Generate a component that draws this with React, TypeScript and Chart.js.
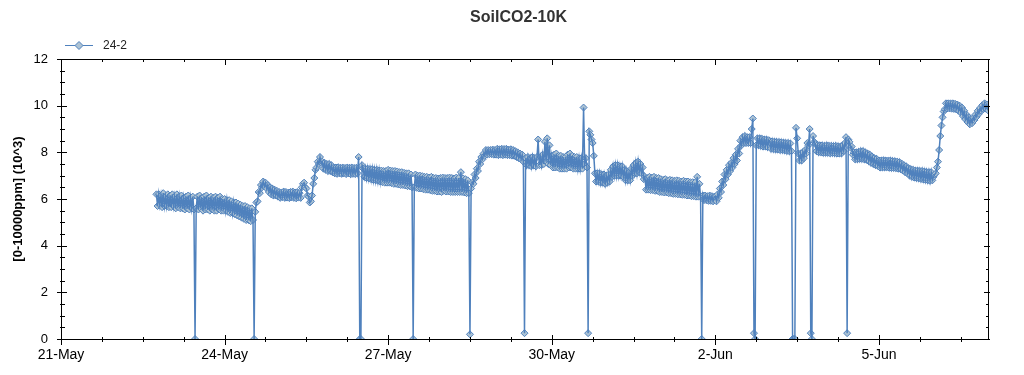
import React, { useEffect, useRef } from 'react';
import { Chart, registerables } from 'chart.js';

Chart.register(...registerables);

// ---------- text ----------
const TITLE = 'SoilCO2-10K';
const SERIES_LABEL = '24-2';
const Y_TITLE = '[0-10000ppm] (10^3)';
const MONTHS = ['Jan', 'Feb', 'Mar', 'Apr', 'May', 'Jun', 'Jul', 'Aug', 'Sep', 'Oct', 'Nov', 'Dec'];

// axis origin: 21-May (x values are days since 21-May 00:00)
const ORIGIN_YEAR = 2024;
const ORIGIN_MONTH = 4; // May (0-based)
const ORIGIN_DAY = 21;
const X_MAX_DAYS = 17;
const X_LABEL_DAYS = [0, 3, 6, 9, 12, 15];
const X_MINOR_STEP_DAYS = 0.75;
const Y_TICKS = [0, 2, 4, 6, 8, 10, 12];
const Y_MINOR_STEP = 0.5;

// ---------- half-hourly readings (10^3 ppm) ----------
const READING_STEP_HOURS = 0.5;
// 22-May, from 18:00
const may22 = [6.2, 5.7, 6.2, 5.75, 6.15, 5.65, 6.25, 5.7, 6.1, 5.7, 6.2, 5.65];
const may23 = [6.15, 5.65, 6.2, 5.7, 6.1, 5.6, 6.2, 5.65, 6.1, 5.6, 6.15, 5.6, 6.05, 5.55, 6.1, 5.6, 6.15, 5.55, 6.05, 5.6, 6.1, 5.55, 0, 5.6, 6.1, 5.55, 6.15, 5.6, 6.05, 5.5, 6.1, 5.55, 6.15, 5.55, 6.05, 5.5, 6.1, 5.55, 6.05, 5.5, 6.1, 5.5, 6.05, 5.55, 6.1, 5.5, 6.0, 5.5];
const may24 = [6.0, 5.5, 5.95, 5.45, 5.95, 5.4, 5.9, 5.4, 5.85, 5.35, 5.85, 5.3, 5.8, 5.25, 5.75, 5.2, 5.7, 5.15, 5.7, 5.1, 5.65, 5.1, 5.6, 5.05, 5.6, 5.1, 0, 5.45, 5.85, 5.9, 6.3, 6.25, 6.6, 6.5, 6.75, 6.55, 6.7, 6.45, 6.6, 6.3, 6.5, 6.2, 6.45, 6.15, 6.4, 6.15, 6.35, 6.1];
const may25 = [6.3, 6.05, 6.28, 6.08, 6.32, 6.05, 6.3, 6.06, 6.27, 6.04, 6.3, 6.07, 6.32, 6.05, 6.28, 6.03, 6.3, 6.06, 6.25, 6.05, 6.5, 6.65, 6.7, 6.5, 6.45, 6.15, 6.1, 5.85, 5.9, 6.15, 6.65, 6.9, 7.25, 7.35, 7.6, 7.5, 7.8, 7.55, 7.6, 7.3, 7.55, 7.25, 7.5, 7.2, 7.5, 7.2, 7.45, 7.15];
const may26 = [7.35, 7.1, 7.35, 7.08, 7.36, 7.1, 7.34, 7.08, 7.35, 7.1, 7.33, 7.07, 7.35, 7.1, 7.34, 7.06, 7.35, 7.08, 7.33, 7.07, 7.34, 7.1, 7.8, 0, 0, 7.45, 7.3, 6.95, 7.3, 6.9, 7.3, 6.88, 7.28, 6.85, 7.28, 6.82, 7.25, 6.8, 7.25, 6.78, 7.22, 6.75, 7.22, 6.72, 7.2, 6.7, 7.2, 6.7];
const may27 = [7.25, 6.7, 7.22, 6.68, 7.2, 6.65, 7.2, 6.65, 7.18, 6.62, 7.15, 6.6, 7.15, 6.6, 7.12, 6.58, 7.1, 6.55, 7.1, 6.55, 7.05, 6.5, 0, 6.5, 7.05, 6.48, 7.0, 6.45, 7.0, 6.45, 6.98, 6.42, 6.95, 6.4, 6.95, 6.4, 6.92, 6.38, 6.95, 6.35, 6.9, 6.35, 6.9, 6.32, 6.88, 6.32, 6.9, 6.3];
const may28 = [6.92, 6.35, 6.9, 6.32, 6.9, 6.32, 6.92, 6.3, 6.9, 6.3, 6.88, 6.3, 6.92, 6.3, 6.9, 6.3, 7.15, 6.3, 6.88, 6.28, 6.85, 6.25, 6.8, 6.25, 0.2, 6.45, 6.7, 6.65, 7.05, 6.9, 7.3, 7.2, 7.6, 7.5, 7.8, 7.7, 7.95, 7.85, 8.1, 7.9, 8.1, 7.92, 8.1, 7.92, 8.12, 7.9, 8.1, 7.9];
const may29 = [8.15, 7.88, 8.13, 7.9, 8.15, 7.88, 8.14, 7.9, 8.15, 7.88, 8.12, 7.88, 8.13, 7.86, 8.1, 7.85, 8.05, 7.8, 8.0, 7.75, 7.95, 7.7, 7.9, 7.6, 0.25, 7.75, 7.45, 7.8, 7.45, 7.75, 7.4, 7.8, 7.45, 7.75, 7.4, 7.8, 8.55, 7.45, 7.8, 7.45, 7.9, 7.5, 8.45, 7.6, 8.6, 7.5, 8.3, 7.45];
const may30 = [7.85, 7.35, 7.9, 7.35, 7.95, 7.35, 7.85, 7.3, 7.85, 7.3, 7.8, 7.3, 7.8, 7.3, 7.9, 7.35, 7.95, 7.35, 7.85, 7.3, 7.8, 7.3, 7.8, 7.3, 7.75, 7.3, 7.75, 7.3, 9.92, 7.5, 7.75, 7.35, 0.25, 8.9, 8.75, 8.55, 8.4, 7.85, 7.1, 6.75, 7.1, 6.75, 7.1, 6.7, 7.05, 6.7, 7.05, 6.65];
const may31 = [7.0, 6.7, 7.05, 6.75, 7.25, 6.95, 7.4, 7.0, 7.45, 7.0, 7.45, 7.0, 7.4, 7.0, 7.4, 6.95, 7.25, 6.8, 7.2, 6.8, 7.15, 6.8, 7.3, 7.0, 7.45, 7.1, 7.55, 7.1, 7.6, 7.15, 7.5, 7.1, 7.35, 6.85, 6.95, 6.4, 6.9, 6.4, 6.95, 6.38, 6.92, 6.38, 6.95, 6.35, 6.9, 6.35, 6.9, 6.3];
const jun01 = [6.85, 6.3, 6.82, 6.28, 6.85, 6.28, 6.8, 6.25, 6.82, 6.25, 6.8, 6.22, 6.78, 6.22, 6.8, 6.2, 6.78, 6.2, 6.75, 6.18, 6.78, 6.18, 6.75, 6.15, 6.75, 6.15, 6.72, 6.12, 6.72, 6.12, 6.7, 6.1, 6.95, 6.1, 6.65, 6.1, 0, 6.15, 5.95, 6.15, 5.95, 6.12, 5.92, 6.15, 5.92, 6.12, 5.9, 6.1];
const jun02 = [6.1, 5.9, 6.2, 6.05, 6.45, 6.3, 6.75, 6.6, 7.05, 6.85, 7.25, 7.05, 7.45, 7.2, 7.55, 7.35, 7.75, 7.5, 7.9, 7.65, 8.15, 7.95, 8.5, 8.3, 8.65, 8.4, 8.7, 8.4, 8.65, 8.4, 8.65, 8.4, 9.0, 9.45, 0.25, 0, 8.3, 8.6, 8.3, 8.6, 8.28, 8.58, 8.25, 8.55, 8.25, 8.55, 8.22, 8.52];
const jun03 = [8.48, 8.15, 8.47, 8.14, 8.46, 8.12, 8.45, 8.12, 8.44, 8.1, 8.43, 8.1, 8.42, 8.08, 8.4, 8.06, 8.4, 8.05, 8.38, 8.05, 0, 0, 0, 9.05, 8.6, 7.95, 7.65, 7.95, 7.65, 8.0, 7.75, 8.1, 7.95, 8.4, 8.3, 9.0, 0.25, 0, 8.7, 8.45, 8.35, 8.05, 8.32, 8.0, 8.3, 8.0, 8.3, 7.98];
const jun04 = [8.28, 7.98, 8.3, 7.98, 8.28, 7.96, 8.28, 7.97, 8.27, 7.96, 8.28, 7.95, 8.26, 7.95, 8.25, 7.95, 8.3, 8.05, 8.4, 8.65, 0.25, 8.55, 8.45, 8.2, 8.25, 7.9, 8.0, 7.7, 8.0, 7.7, 8.02, 7.72, 8.05, 7.72, 8.05, 7.7, 8.0, 7.68, 7.95, 7.62, 7.9, 7.55, 7.82, 7.5, 7.75, 7.45, 7.72, 7.42];
const jun05 = [7.65, 7.35, 7.65, 7.35, 7.66, 7.35, 7.65, 7.36, 7.64, 7.34, 7.65, 7.33, 7.63, 7.33, 7.62, 7.32, 7.6, 7.3, 7.58, 7.28, 7.52, 7.22, 7.45, 7.15, 7.4, 7.1, 7.32, 7.0, 7.28, 6.95, 7.25, 6.92, 7.22, 6.9, 7.22, 6.88, 7.2, 6.86, 7.2, 6.84, 7.18, 6.82, 7.16, 6.8, 7.15, 6.78, 7.15, 6.8];
const jun06 = [6.95, 7.05, 7.1, 7.35, 7.6, 8.1, 8.7, 9.15, 9.5, 9.75, 9.85, 10.1, 9.88, 10.1, 9.88, 10.1, 9.87, 10.1, 9.86, 10.08, 9.84, 10.05, 9.78, 10.0, 9.7, 9.92, 9.55, 9.78, 9.42, 9.62, 9.3, 9.5, 9.2, 9.42, 9.25, 9.48, 9.38, 9.62, 9.52, 9.78, 9.65, 9.9, 9.78, 10.02, 9.85, 10.1, 9.88, 10.05];
const jun07 = [9.8];

// [days since 21-May, first hour, readings]
const DAY_BLOCKS: [number, number, number[]][] = [
  [1, 18, may22], [2, 0, may23], [3, 0, may24], [4, 0, may25], [5, 0, may26],
  [6, 0, may27], [7, 0, may28], [8, 0, may29], [9, 0, may30], [10, 0, may31],
  [11, 0, jun01], [12, 0, jun02], [13, 0, jun03], [14, 0, jun04], [15, 0, jun05],
  [16, 0, jun06], [17, 0, jun07],
];

// ---------- style ----------
const FONT = '"Liberation Sans", Arial, sans-serif';
const LINE_COLOR = '#4f81bd';
const MARKER_FILL = '#adc3d4';

function buildPoints() {
  const pts: { x: number; y: number }[] = [];
  DAY_BLOCKS.forEach(([day, h0, vals]) => {
    vals.forEach((v, i) => pts.push({ x: day + (h0 + i * READING_STEP_HOURS) / 24, y: v }));
  });
  return pts;
}

function formatDay(v: number) {
  const d = new Date(ORIGIN_YEAR, ORIGIN_MONTH, ORIGIN_DAY + Math.round(v));
  return `${d.getDate()}-${MONTHS[d.getMonth()]}`;
}

const framePlugin = {
  id: 'frameTicks',
  afterDraw(chart: any) {
    const { ctx, chartArea, scales } = chart;
    const xs = scales.x;
    const ys = scales.y;
    const Li = Math.round(chartArea.left);
    const Ri = Math.round(chartArea.right);
    const Ti = Math.round(chartArea.top);
    const Bi = Math.round(chartArea.bottom);
    ctx.save();
    ctx.strokeStyle = '#000';
    ctx.lineWidth = 1;
    ctx.beginPath();
    ctx.rect(Li + 0.5, Ti + 0.5, Ri - Li, Bi - Ti);
    for (let k = 0; k * X_MINOR_STEP_DAYS <= X_MAX_DAYS + 1e-9; k++) {
      const v = k * X_MINOR_STEP_DAYS;
      const px = Math.round(xs.getPixelForValue(v)) + 0.5;
      const major = X_LABEL_DAYS.some((d) => Math.abs(d - v) < 1e-6);
      if (major) {
        ctx.moveTo(px, Bi - 4); ctx.lineTo(px, Bi + 6);
        ctx.moveTo(px, Ti); ctx.lineTo(px, Ti + 6);
      } else {
        ctx.moveTo(px, Bi - 2); ctx.lineTo(px, Bi + 3);
        ctx.moveTo(px, Ti); ctx.lineTo(px, Ti + 3);
      }
    }
    const yMax = Y_TICKS[Y_TICKS.length - 1];
    for (let k = 0; k * Y_MINOR_STEP <= yMax + 1e-9; k++) {
      const v = k * Y_MINOR_STEP;
      const py = Math.round(ys.getPixelForValue(v)) + 0.5;
      const major = Y_TICKS.some((t) => Math.abs(t - v) < 1e-6);
      if (major) {
        ctx.moveTo(Li - 4, py); ctx.lineTo(Li + 6, py);
        ctx.moveTo(Ri - 4, py); ctx.lineTo(Ri + 2, py);
      } else {
        ctx.moveTo(Li - 1, py); ctx.lineTo(Li + 4, py);
        ctx.moveTo(Ri - 2, py); ctx.lineTo(Ri + 1, py);
      }
    }
    ctx.stroke();
    ctx.restore();
  },
};

const headerPlugin = {
  id: 'header',
  afterDraw(chart: any) {
    const { ctx } = chart;
    ctx.save();
    ctx.fillStyle = '#333';
    ctx.font = `bold 16px ${FONT}`;
    ctx.textAlign = 'center';
    ctx.textBaseline = 'middle';
    ctx.fillText(TITLE, 518.5, 18);
    const ly = 45.5;
    ctx.strokeStyle = LINE_COLOR;
    ctx.lineWidth = 1;
    ctx.beginPath();
    ctx.moveTo(65, ly);
    ctx.lineTo(93, ly);
    ctx.stroke();
    ctx.beginPath();
    ctx.moveTo(79, ly - 4);
    ctx.lineTo(83, ly);
    ctx.lineTo(79, ly + 4);
    ctx.lineTo(75, ly);
    ctx.closePath();
    ctx.fillStyle = MARKER_FILL;
    ctx.fill();
    ctx.stroke();
    ctx.fillStyle = '#222';
    ctx.font = `12px ${FONT}`;
    ctx.textAlign = 'left';
    ctx.fillText(SERIES_LABEL, 103, ly);
    ctx.restore();
  },
};

export default function App() {
  const ref = useRef<HTMLCanvasElement>(null);
  useEffect(() => {
    const canvas = ref.current;
    if (!canvas) return;
    Chart.defaults.font.family = FONT;
    const points = buildPoints();
    const chart = new Chart(canvas, {
      type: 'line',
      data: {
        datasets: [
          {
            // markers (drawn underneath)
            label: SERIES_LABEL,
            data: points,
            order: 2,
            showLine: false,
            pointStyle: 'rectRot',
            pointRadius: 3.5,
            pointBorderWidth: 1,
            pointBackgroundColor: MARKER_FILL,
            pointBorderColor: LINE_COLOR,
          },
          {
            // connecting line (drawn on top)
            label: SERIES_LABEL,
            data: points,
            order: 1,
            borderColor: LINE_COLOR,
            borderWidth: 1.5,
            pointRadius: 0,
            tension: 0,
          },
        ],
      },
      options: {
        responsive: false,
        animation: false,
        events: [],
        layout: { padding: { top: 59, right: 36, left: 0, bottom: 0 } },
        plugins: {
          legend: { display: false },
          title: { display: false },
          tooltip: { enabled: false },
        },
        scales: {
          x: {
            type: 'linear',
            min: 0,
            max: X_MAX_DAYS,
            afterBuildTicks: (s: any) => {
              s.ticks = X_LABEL_DAYS.map((v) => ({ value: v }));
            },
            afterFit: (s: any) => {
              s.height = 36;
            },
            grid: { display: false, drawTicks: false },
            border: { display: false },
            ticks: {
              autoSkip: false,
              maxRotation: 0,
              padding: 8,
              color: '#000',
              font: { size: 14, family: FONT },
              callback: (v: any) => formatDay(Number(v)),
            },
          },
          y: {
            type: 'linear',
            min: 0,
            max: Y_TICKS[Y_TICKS.length - 1],
            afterBuildTicks: (s: any) => {
              s.ticks = Y_TICKS.map((v) => ({ value: v }));
            },
            afterFit: (s: any) => {
              s.width = 61;
            },
            grid: { display: false, drawTicks: false },
            border: { display: false },
            ticks: {
              padding: 13,
              color: '#000',
              font: { size: 13, family: FONT },
            },
            title: {
              display: true,
              text: Y_TITLE,
              color: '#000',
              font: { size: 13, weight: 'bold', family: FONT },
              padding: { top: 11, bottom: 0 },
            },
          },
        },
      },
      plugins: [framePlugin, headerPlugin],
    } as any);
    return () => chart.destroy();
  }, []);
  return (
    <canvas
      ref={ref}
      width={1024}
      height={375}
      style={{ position: 'absolute', left: 0, top: 0, display: 'block', width: 1024, height: 375 }}
    />
  );
}
